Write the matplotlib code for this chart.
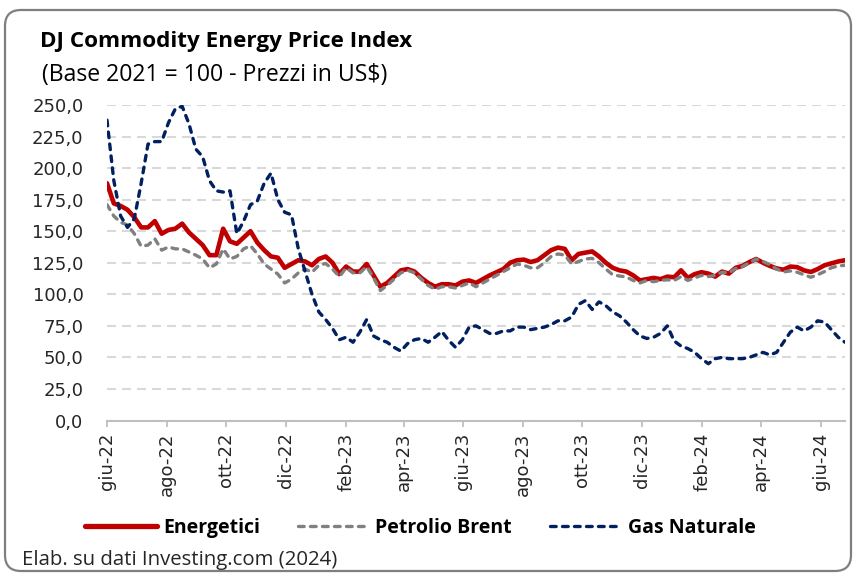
import numpy as np
import matplotlib
matplotlib.use("Agg")
import matplotlib.pyplot as plt
from matplotlib.patches import FancyBboxPatch
from matplotlib.font_manager import FontProperties

# ---------------- data (weekly) ----------------
start_date = "2022-06-01"
energetici = [188, 172, 170, 167, 161, 153, 153, 158, 148, 151,
              152, 156, 149, 144, 139, 131, 131, 152, 142, 140,
              145, 150, 141, 135, 130, 129, 121, 124, 127, 126,
              123, 128, 130, 125, 116, 122, 118, 118, 124, 115,
              106, 109, 114, 119, 120, 118, 113, 109, 106, 108,
              108, 107, 110, 111, 109, 112, 115, 117.5, 120, 125,
              127, 127.5, 125.6, 127, 131, 135, 137, 136, 127, 132,
              133, 134, 130, 125, 121, 119, 118, 115, 111, 112,
              113, 112, 114, 113.5, 119, 113, 116, 117.5, 116.4, 114,
              118, 116.4, 121, 122.5, 125.5, 128, 125, 122.5, 120.5, 119.5,
              122, 121.5, 119, 117.7, 120, 123, 124.5, 126, 127]
brent = [171, 162, 157, 155, 148, 138, 139, 144, 135, 137.5,
         136, 136, 133.5, 131, 128, 121, 124, 136, 128, 130,
         136, 138.5, 132, 124, 120, 116, 109, 112, 117, 120,
         117.5, 123, 124.4, 120, 114, 121, 117, 117, 122, 113,
         103, 107, 112, 117, 119, 117, 112, 107, 104, 106,
         106, 105, 107, 109, 106, 109, 112, 115, 118, 121,
         124, 123, 121, 121, 125, 130, 132, 131, 124, 126,
         128, 128.5, 125, 120, 115.5, 114.5, 113.7, 111, 109, 111,
         110, 111, 111.5, 111, 114, 111, 113, 115, 114, 115,
         117.5, 117, 120.5, 122, 125, 128, 126, 123.5, 120, 117.7,
         118.5, 117.5, 115.5, 113.5, 115.5, 118, 121, 122.5, 123]
gas = [238, 190, 162, 153, 160, 188, 219, 221, 221, 236,
       247, 249, 235, 215, 209, 190, 182, 181, 182, 148,
       158, 171, 174, 188, 196, 175, 165, 163, 136, 118,
       100, 86, 80, 73, 64, 66, 62, 70, 80, 67,
       64, 62, 58, 55, 61, 64, 65, 62, 66, 70.5,
       63.5, 58, 64, 74, 75, 72, 69, 69, 71, 71,
       74, 74, 72, 73, 74, 76, 79, 79, 82, 92,
       95, 88, 94, 91, 86, 83, 78, 72, 67, 65,
       66, 69, 75, 63, 59, 57, 54, 49, 45, 49,
       50, 49, 49, 49, 50, 52, 54, 52, 54, 62,
       70, 74, 71, 74, 79, 78, 72, 66, 62]

series_names = ["Energetici", "Petrolio Brent", "Gas Naturale"]

tick_dates = ["2022-06-01", "2022-08-01", "2022-10-01", "2022-12-01",
              "2023-02-01", "2023-04-01", "2023-06-01", "2023-08-01",
              "2023-10-01", "2023-12-01", "2024-02-01", "2024-04-01",
              "2024-06-01"]
tick_labels = ["giu-22", "ago-22", "ott-22", "dic-22", "feb-23", "apr-23",
               "giu-23", "ago-23", "ott-23", "dic-23", "feb-24", "apr-24",
               "giu-24"]
y_ticks = [0, 25, 50, 75, 100, 125, 150, 175, 200, 225, 250]
y_tick_labels = ["0,0", "25,0", "50,0", "75,0", "100,0", "125,0", "150,0",
                 "175,0", "200,0", "225,0", "250,0"]

title = "DJ Commodity Energy Price Index"
subtitle = "(Base 2021 = 100 - Prezzi in US$)"
source = "Elab. su dati Investing.com (2024)"

# ---------------- figure ----------------
W, H = 856, 574
fig = plt.figure(figsize=(W / 100, H / 100), dpi=100)
fig.patch.set_facecolor("white")

dates = np.datetime64(start_date) + np.arange(len(energetici)) * np.timedelta64(7, "D")

ax = fig.add_axes([107 / W, 1 - 420.5 / H, (845 - 107) / W, (420.5 - 105) / H])
ax.set_facecolor("white")

l1, = ax.plot(dates, energetici, color="#C00000", lw=3.3, solid_capstyle="round",
              solid_joinstyle="round", zorder=3)
l2, = ax.plot(dates, brent, color="#808080", lw=2.4, ls=(0, (1.7, 1.9)),
              dash_capstyle="round", zorder=4)
l3, = ax.plot(dates, gas, color="#002060", lw=2.4, ls=(0, (1.7, 1.9)),
              dash_capstyle="round", zorder=5)

ax.set_xlim(np.datetime64(start_date), np.datetime64(start_date) + np.timedelta64(756, "D"))
ax.set_ylim(0, 250)

ax.set_yticks(y_ticks)
ax.set_yticklabels(y_tick_labels)
ax.set_xticks([np.datetime64(d) for d in tick_dates])
ax.set_xticklabels(tick_labels, rotation=90)

tick_font = dict(family="DejaVu Sans", size=13)
for lab in ax.get_xticklabels() + ax.get_yticklabels():
    lab.set_fontfamily("DejaVu Sans")
    lab.set_fontsize(13)
    lab.set_color("#262626")

ax.tick_params(axis="y", length=0, pad=17)
ax.tick_params(axis="x", length=4.5, width=1.3, color="#BFBFBF", pad=4)

ax.yaxis.grid(True, color="#D9D9D9", lw=1.5, ls=(0, (4.3, 2.9)))
ax.set_axisbelow(True)
for s in ["left", "top", "right"]:
    ax.spines[s].set_visible(False)
ax.spines["bottom"].set_color("#BFBFBF")
ax.spines["bottom"].set_linewidth(1.5)

# ---------------- texts ----------------
t_title = fig.text(40 / W, 1 - 46.7 / H, title, family="Open Sans", weight="bold",
                   fontsize=16, va="baseline", ha="left", color="black")
t_sub = fig.text(42 / W, 1 - 81 / H, subtitle, family="Open Sans", fontsize=14,
                 va="baseline", ha="left", color="black")
t_src = fig.text(22 / W, 1 - 565 / H, source, family="Open Sans", fontsize=13,
                 va="baseline", ha="left", color="#262626")

fig.canvas.draw()
renderer = fig.canvas.get_renderer()
for t, target in [(t_title, 372), (t_sub, 348), (t_src, 314)]:
    w = t.get_window_extent(renderer).width
    t.set_fontsize(t.get_fontsize() * target / w)

leg = fig.legend([l1, l2, l3], series_names, loc="center left",
                 bbox_to_anchor=(85 / W, 1 - 528 / H), ncol=3, frameon=False,
                 handlelength=3.7, handletextpad=0.3, columnspacing=1.95,
                 borderaxespad=0, borderpad=0,
                 prop=FontProperties(family="Open Sans", weight="bold", size=14))
for h in leg.get_lines():
    if h.get_linestyle() == "-":
        h.set_linewidth(3.8)

# rounded border
border = FancyBboxPatch((0.05, 0.03), 8.46, 5.61,
                        boxstyle="round,pad=0,rounding_size=0.16",
                        transform=fig.dpi_scale_trans, fill=False,
                        edgecolor="#7F7F7F", lw=1.6, zorder=10)
fig.add_artist(border)

fig.savefig("out.png", dpi=100, facecolor="white")
